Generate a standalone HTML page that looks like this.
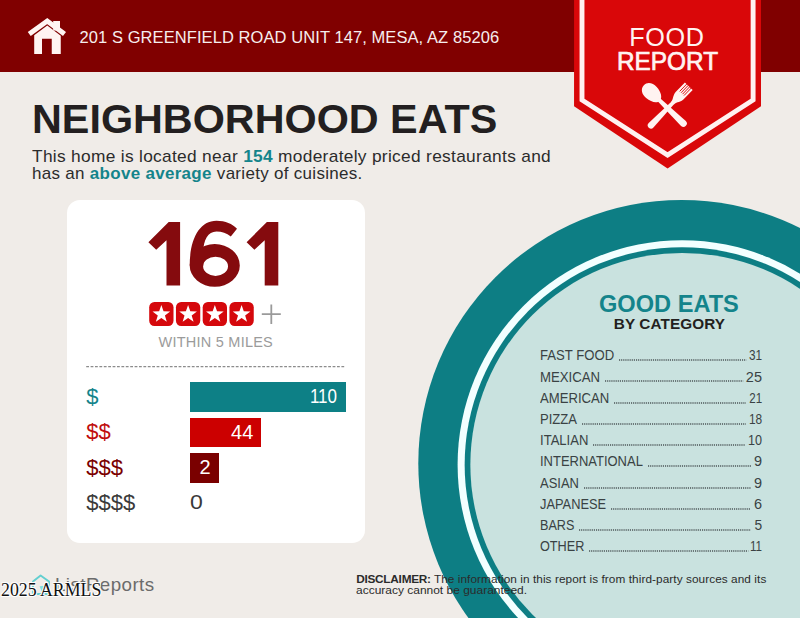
<!DOCTYPE html>
<html>
<head>
<meta charset="utf-8">
<title>Food Report</title>
<style>
html,body{margin:0;padding:0;}
body{width:800px;height:618px;position:relative;overflow:hidden;background:#f0ece8;font-family:"Liberation Sans",sans-serif;}
.abs{position:absolute;white-space:nowrap;line-height:1;transform-origin:left top;}
#header{position:absolute;left:0;top:0;width:800px;height:72.3px;background:#800000;}
#addr{left:79.5px;top:29.4px;font-size:16.5px;color:#f6eeee;letter-spacing:0.08px;}
#title{left:31.5px;top:99.3px;font-size:40px;font-weight:bold;color:#231f20;transform:scaleX(1.033);}
.sub{font-size:16.6px;color:#2b2b2b;letter-spacing:0.3px;}
.sub b{color:#14848b;}
#sub1{left:32.4px;top:148.5px;transform:scaleX(1.043);}
#sub2{left:32.4px;top:166.3px;transform:scaleX(1.023);}
#card{position:absolute;left:67px;top:199.7px;width:298px;height:343px;background:#fff;border-radius:13px;}
.big{top:209px;font-size:90px;font-weight:bold;color:#850b0e;}
#b1{left:143px;}#b2{left:186px;transform:scaleX(1.08);}#b3{left:241.5px;}
.star{position:absolute;top:302px;width:25px;height:24.5px;background:#d5080c;border-radius:5px;}
#within{left:158.6px;top:335.3px;font-size:14.5px;color:#9b9b9b;letter-spacing:0.23px;}
.bar{position:absolute;left:190px;height:29.5px;}
.lbl{left:86.2px;font-size:22px;}
.val{font-size:20px;color:#fff;text-align:right;transform-origin:right top;}
#good{left:599.3px;top:292.5px;font-size:23px;font-weight:bold;color:#14848b;transform:scaleX(1.026);}
#bycat{left:613.8px;top:315.9px;font-size:15.3px;font-weight:bold;color:#231f20;letter-spacing:0.1px;}
.row{position:absolute;left:540px;width:222px;height:16px;font-size:14.5px;color:#3a3f40;line-height:16px;white-space:nowrap;overflow:hidden;}
.disc{font-size:11.8px;color:#2b2b2b;}
.rl{left:539.7px;font-size:14.5px;color:#3a4244;transform:scaleX(0.89);}
.rv{right:38px;font-size:14.5px;color:#3a4244;transform-origin:right top;transform:scaleX(0.93);}
.dots{position:absolute;overflow:visible;}.dots line{stroke:#4c5658;stroke-width:1.35;stroke-dasharray:1.15 0.97;}
</style>
</head>
<body>
<div id="header"></div>

<!-- plate -->
<svg class="abs" style="left:0;top:0" width="800" height="618" viewBox="0 0 800 618">
  <circle cx="681.7" cy="463.4" r="263.4" fill="#0d7e84"/>
  <circle cx="682.1" cy="464.7" r="224.5" fill="#f2ffff"/>
  <circle cx="682.1" cy="464.7" r="217.45" fill="#0d7e84"/>
  <circle cx="682.1" cy="464.7" r="211.75" fill="#c9e2df"/>
</svg>

<!-- banner -->
<svg class="abs" style="left:0;top:0" width="800" height="180" viewBox="0 0 800 180">
  <polygon points="574.05,0 761,0 761,106.2 667.55,168.5 574.05,106.2" fill="#d90709"/>
  <polyline points="582,0 582,100 667.55,155 753.1,100 753.1,0" fill="none" stroke="#fff1f0" stroke-width="4.9"/>
</svg>

<div class="abs" id="addr">201 S GREENFIELD ROAD UNIT 147, MESA, AZ 85206</div>
<div class="abs" id="title">NEIGHBORHOOD EATS</div>
<div class="abs sub" id="sub1">This home is located near <b>154</b> moderately priced restaurants and</div>
<div class="abs sub" id="sub2">has an <b>above average</b> variety of cuisines.</div>

<div id="card"></div>
<svg class="abs" id="big" style="left:140px;top:210px" width="160" height="90" viewBox="140 210 160 90">
  <g fill="#850b0e">
    <polygon id="one" points="168.7,222.1 180.1,222.1 180.1,285.5 166.5,285.5 166.5,240.2 156.2,249.7 148.4,242.2"/>
    <use href="#one" x="98.2"/>
    <path d="M189.7 265.5 C189.7 240 199 220.8 216.5 220.8 C225.5 220.8 232.3 224 237 228.8 L230.8 236.6 C226.5 233 222 231.6 216.5 231.6 C208 231.6 203.4 240 203.3 252 L203.3 265.5 Z"/>
    <path fill-rule="evenodd" d="M189.7 265.4 A25.05 21.4 0 1 0 239.8 265.4 A25.05 21.4 0 1 0 189.7 265.4 Z M203.1 266.3 A12.45 9.6 0 1 1 228 266.3 A12.45 9.6 0 1 1 203.1 266.3 Z"/>
  </g>
</svg>
<div class="abs" id="within">WITHIN 5 MILES</div>
<svg class="abs" id="dash" style="left:80px;top:360px" width="280" height="14" viewBox="80 360 280 14"><line x1="86.2" y1="366.6" x2="345.8" y2="366.6" stroke="#8c8c8c" stroke-width="1.25" stroke-dasharray="2.8 1.6"/></svg>


<!-- stars -->
<svg class="abs" style="left:140px;top:295px" width="160" height="40" viewBox="140 295 160 40">
  <defs>
    <g id="st">
      <rect x="0" y="0" width="24.3" height="23.8" rx="5.2" ry="5.2" fill="#d5080c"/>
      <polygon fill="#fff" points="12.15,2.90 14.35,9.17 20.99,9.33 15.72,13.36 17.62,19.72 12.15,15.95 6.68,19.72 8.58,13.36 3.31,9.33 9.95,9.17"/>
    </g>
  </defs>
  <use href="#st" x="149.2" y="302.1"/>
  <use href="#st" x="175.95" y="302.1"/>
  <use href="#st" x="202.7" y="302.1"/>
  <use href="#st" x="229.45" y="302.1"/>
  <path d="M261.8 314.2H280.8M271.3 304.4V324" stroke="#9a9a9a" stroke-width="1.8" fill="none"/>
</svg>

<!-- bars -->
<div class="bar" style="top:382.2px;width:155.6px;background:#0d8086;"></div>
<div class="bar" style="top:417.7px;width:71.2px;background:#cc0000;"></div>
<div class="bar" style="top:453.2px;width:29.2px;background:#7a0000;"></div>
<div class="abs lbl" id="l1" style="top:386.1px;color:#14848b;">$</div>
<div class="abs lbl" id="l2" style="top:421.1px;color:#c00d0d;">$$</div>
<div class="abs lbl" id="l3" style="top:456.6px;color:#7a0000;">$$$</div>
<div class="abs lbl" id="l4" style="top:492.1px;color:#3a3a3a;">$$$$</div>
<div class="abs val" id="v1" style="left:287px;width:50px;top:385.9px;transform:scaleX(0.85);">110</div>
<div class="abs val" id="v2" style="left:213.3px;width:40px;top:421.5px;">44</div>
<div class="abs val" id="v3" style="left:190px;width:20.6px;top:456.8px;">2</div>
<div class="abs val" id="v4" style="left:190.2px;top:492.4px;color:#3a3a3a;text-align:left;transform-origin:left top;transform:scaleX(1.15);">0</div>

<div class="abs" id="good">GOOD EATS</div>
<div class="abs" id="bycat">BY CATEGORY</div>
<!-- list -->
<div class="abs rl" style="top:348.3px;transform:scaleX(0.905);">FAST FOOD</div><svg class="dots" style="left:618.8px;top:359.2px;" width="127.4" height="2"><line x1="0" y1="1" x2="127.4" y2="1"/></svg><div class="abs rv" style="top:348.3px;transform:scaleX(0.81);">31</div>
<div class="abs rl" style="top:369.5px;transform:scaleX(0.910);">MEXICAN</div><svg class="dots" style="left:604.8px;top:380.4px;" width="138.2" height="2"><line x1="0" y1="1" x2="138.2" y2="1"/></svg><div class="abs rv" style="top:369.5px;transform:scaleX(1.00);">25</div>
<div class="abs rl" style="top:390.7px;transform:scaleX(0.905);">AMERICAN</div><svg class="dots" style="left:614.0px;top:401.6px;" width="132.0" height="2"><line x1="0" y1="1" x2="132.0" y2="1"/></svg><div class="abs rv" style="top:390.7px;transform:scaleX(0.80);">21</div>
<div class="abs rl" style="top:412.0px;transform:scaleX(0.900);">PIZZA</div><svg class="dots" style="left:581.7px;top:422.8px;" width="163.9" height="2"><line x1="0" y1="1" x2="163.9" y2="1"/></svg><div class="abs rv" style="top:412.0px;transform:scaleX(0.82);">18</div>
<div class="abs rl" style="top:433.2px;transform:scaleX(0.900);">ITALIAN</div><svg class="dots" style="left:593.0px;top:444.0px;" width="152.0" height="2"><line x1="0" y1="1" x2="152.0" y2="1"/></svg><div class="abs rv" style="top:433.2px;transform:scaleX(0.87);">10</div>
<div class="abs rl" style="top:454.4px;transform:scaleX(0.895);">INTERNATIONAL</div><svg class="dots" style="left:647.6px;top:465.2px;" width="103.0" height="2"><line x1="0" y1="1" x2="103.0" y2="1"/></svg><div class="abs rv" style="top:454.4px;transform:scaleX(1.00);">9</div>
<div class="abs rl" style="top:475.6px;transform:scaleX(0.895);">ASIAN</div><svg class="dots" style="left:583.7px;top:486.5px;" width="166.9" height="2"><line x1="0" y1="1" x2="166.9" y2="1"/></svg><div class="abs rv" style="top:475.6px;transform:scaleX(1.00);">9</div>
<div class="abs rl" style="top:496.8px;transform:scaleX(0.885);">JAPANESE</div><svg class="dots" style="left:610.8px;top:507.7px;" width="139.8" height="2"><line x1="0" y1="1" x2="139.8" y2="1"/></svg><div class="abs rv" style="top:496.8px;transform:scaleX(1.00);">6</div>
<div class="abs rl" style="top:518.1px;transform:scaleX(0.870);">BARS</div><svg class="dots" style="left:579.1px;top:528.9px;" width="171.9" height="2"><line x1="0" y1="1" x2="171.9" y2="1"/></svg><div class="abs rv" style="top:518.1px;transform:scaleX(0.95);">5</div>
<div class="abs rl" style="top:539.3px;transform:scaleX(0.875);">OTHER</div><svg class="dots" style="left:589.1px;top:550.1px;" width="159.3" height="2"><line x1="0" y1="1" x2="159.3" y2="1"/></svg><div class="abs rv" style="top:539.3px;transform:scaleX(0.80);">11</div>

<!-- disclaimer -->
<div class="abs disc" id="d1" style="left:356.2px;top:574.4px;letter-spacing:0.07px;"><b style="letter-spacing:-0.25px">DISCLAIMER:</b> The information in this report is from third-party sources and its</div>
<div class="abs disc" id="d2" style="left:356.2px;top:585.2px;transform:scaleX(1.015);">accuracy cannot be guaranteed.</div>

<!-- logo -->
<svg class="abs" style="left:28px;top:570px" width="30" height="30" viewBox="28 570 30 30">
  <path d="M33 581.6 L40.6 575.4 L49 581.6 V594 H33 Z" fill="none" stroke="#63cfd0" stroke-width="1.9" stroke-linejoin="round"/>
  <path d="M39.6 586.2 L46.8 585.6 L42.2 592.8 Z" fill="#7fe0e0"/>
</svg>
<div class="abs" id="logo" style="left:55.2px;top:576.6px;font-size:17.8px;color:#6b6b6b;letter-spacing:0.4px;transform:scaleX(1.055);">ListReports</div>
<div class="abs" id="wm" style="left:1px;top:582px;font-family:'Liberation Serif',serif;font-size:17.8px;color:#111;text-shadow:0 0 1.5px #fff,0 0 1.5px #fff,0.8px 0.8px 0 #fff,-0.8px -0.8px 0 #fff,0.8px -0.8px 0 #fff,-0.8px 0.8px 0 #fff;">2025 ARMLS</div>

<!-- house icon -->
<svg class="abs" style="left:20px;top:10px" width="60" height="55" viewBox="20 10 60 55">
  <path d="M29.25 34.1 L47.25 21 L64.5 34.1" fill="none" stroke="#fff4f2" stroke-width="5" stroke-linecap="butt" stroke-linejoin="miter"/>
  <rect x="53.2" y="21" width="6.8" height="9.5" fill="#fff4f2"/>
  <path d="M34.2 35.2 L47.25 25.6 L60.75 35.7 V54 H51.75 V38.7 H42 V54 H34.2 Z" fill="#fff4f2"/>
</svg>

<!-- banner text -->
<div class="abs" id="food" style="left:629.3px;top:25.1px;font-size:25.2px;color:#fff3f1;letter-spacing:0.6px;">FOOD</div>
<div class="abs" id="report" style="left:617px;top:48.8px;font-size:25px;color:#fff3f1;-webkit-text-stroke:0.7px #fff3f1;transform:scaleX(0.975);">REPORT</div>

<!-- utensils -->
<svg class="abs" style="left:630px;top:70px" width="80" height="70" viewBox="630 70 80 70">
  <g transform="translate(667.6 108.2) rotate(-46)" fill="#fff3f1">
    <!-- spoon: bowl up (negative y) -->
    <path d="M0 -33 C5.2 -33 8 -28 7.6 -22.5 C7.2 -16 4 -10.8 0 -10.8 C-4 -10.8 -7.2 -16 -7.6 -22.5 C-8 -28 -5.2 -33 0 -33 Z"/>
    <path d="M-1.9 -13 L1.9 -13 L3.4 22 A3.4 3.4 0 0 1 -3.4 22 Z"/>
  </g>
  <g transform="translate(667.6 108.2) rotate(44)" fill="#fff3f1">
    <!-- fork: tines up -->
    <path d="M-1.8 -8 L1.8 -8 L3.3 23.8 A3.3 3.3 0 0 1 -3.3 23.8 Z"/>
    <path d="M-5.4 -30.5 L5.4 -30.5 L5.4 -17.5 C5.4 -13 2.4 -11.5 1.8 -7 L-1.8 -7 C-2.4 -11.5 -5.4 -13 -5.4 -17.5 Z"/>
    <path d="M-3 -31 V-20.5 M-1 -31 V-20.5 M1 -31 V-20.5 M3 -31 V-20.5" stroke="#d90709" stroke-width="0.9" fill="none"/>
  </g>
</svg>
</body>
</html>
